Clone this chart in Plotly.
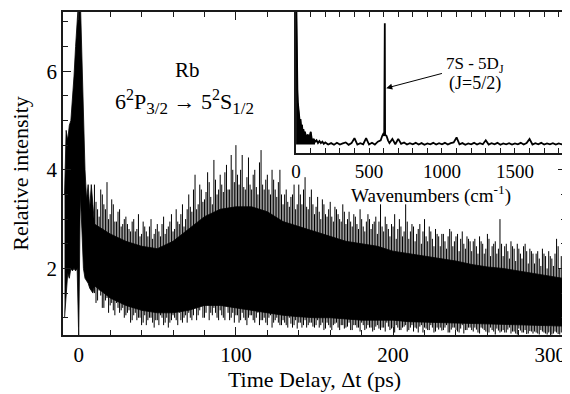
import plotly.graph_objects as go

# ---------------- main trace: time-delay signal ----------------
# near zero delay (1 ps sampling): upper / lower edge of the trace
t_peak = list(range(-9, 10))
hi_peak = [3.5, 4.8, 4.6, 4.9, 5.0, 5.4, 5.9, 6.5, 7.1, 7.5, 7.5, 6.4, 5.0, 4.0, 3.4, 3.7, 3.2, 3.7, 3.3]
lo_peak = [1.0, 1.5, 1.9, 1.8, 2.0, 1.95, 2.0, 1.95, 2.0, 0.6, 3.5, 2.8, 2.0, 1.8, 1.75, 1.7, 1.6, 1.55, 1.5]

# dense body of the oscillating signal (10 ps sampling)
band_t = [10, 20, 30, 40, 50, 60, 70, 80, 90, 100, 110, 120, 130, 140, 150, 160, 170, 180, 190, 200,
          210, 220, 230, 240, 250, 260, 270, 280, 290, 300, 308]
band_hi = [2.9, 2.7, 2.55, 2.45, 2.4, 2.55, 2.8, 3.05, 3.2, 3.25, 3.25, 3.15, 2.95, 2.85, 2.75, 2.65, 2.55,
           2.5, 2.45, 2.35, 2.3, 2.25, 2.2, 2.15, 2.08, 2.03, 2.0, 1.95, 1.9, 1.85, 1.8]
band_lo = [1.65, 1.4, 1.25, 1.15, 1.1, 1.1, 1.15, 1.25, 1.25, 1.2, 1.15, 1.1, 1.05, 1.02, 1.0, 1.0, 0.97,
           0.95, 0.95, 0.95, 0.92, 0.91, 0.9, 0.89, 0.88, 0.87, 0.86, 0.85, 0.85, 0.83, 0.83]

# individual noise excursions, even ps (max / min of each sample)
t_even = list(range(10, 309, 2))
hi_even = [
    3.7, 3.2, 3.6, 3.3, 3.75, 3.1, 3.3, 2.95, 3.2, 2.9,
    3.05, 2.8, 2.95, 2.75, 3.1, 2.7, 2.85, 2.65, 3.0, 2.7,
    2.9, 2.65, 3.05, 2.8, 2.95, 2.75, 3.2, 2.9, 3.3, 3.0,
    3.5, 3.15, 3.9, 3.3, 3.6, 3.4, 3.95, 3.45, 4.2, 3.5,
    3.9, 3.55, 4.1, 3.6, 4.0, 4.5, 3.7, 4.3, 3.6, 4.25,
    3.6, 4.0, 3.5, 4.4, 3.6, 3.9, 3.5, 3.8, 3.45, 4.0,
    3.3, 3.6, 3.25, 3.5, 3.2, 3.7, 3.3, 3.85, 3.2, 3.6,
    3.1, 3.45, 3.0, 3.3, 3.05, 3.35, 2.95, 3.2, 3.0, 3.3,
    2.9, 3.15, 2.85, 3.05, 2.8, 3.0, 2.75, 3.1, 2.8, 2.95,
    2.7, 3.3, 2.75, 2.9, 2.65, 2.85, 2.6, 3.0, 2.65, 3.3,
    2.6, 2.9, 2.55, 2.8, 2.5, 3.0, 2.55, 2.75, 2.45, 2.7,
    2.45, 2.7, 2.4, 2.8, 2.45, 2.65, 2.35, 2.75, 2.4, 2.6,
    2.35, 2.6, 2.3, 2.55, 2.3, 2.7, 2.25, 2.5, 2.3, 3.0,
    2.25, 2.5, 2.2, 2.45, 2.15, 2.4, 2.2, 2.5, 2.1, 2.35,
    2.1, 2.35, 2.05, 2.3, 2.0, 2.25, 2.05, 2.6, 2.0, 2.3,
]
lo_even = [
    1.5, 1.35, 1.45, 1.2, 1.4, 1.25, 1.15, 1.3, 1.1, 1.2,
    1.05, 1.15, 0.95, 1.1, 1.0, 0.85, 1.05, 0.95, 1.0, 0.8,
    0.95, 1.05, 0.85, 1.0, 0.9, 1.05, 0.95, 1.1, 0.9, 1.05,
    1.1, 0.95, 1.2, 1.05, 1.25, 1.0, 1.3, 1.1, 1.2, 1.0,
    1.15, 1.0, 1.25, 0.95, 1.1, 1.05, 0.9, 1.1, 0.95, 1.0,
    1.05, 0.9, 1.1, 0.95, 1.0, 0.85, 1.05, 0.9, 1.0, 0.85,
    0.95, 0.85, 1.0, 0.8, 0.95, 0.9, 0.8, 0.95, 0.85, 0.9,
    0.8, 0.95, 0.85, 0.75, 0.9, 0.8, 0.85, 0.9, 0.75, 0.85,
    0.8, 0.9, 0.75, 0.85, 0.8, 0.9, 0.75, 0.85, 0.8, 0.75,
    0.85, 0.75, 0.8, 0.9, 0.75, 0.8, 0.85, 0.75, 0.8, 0.85,
    0.75, 0.85, 0.8, 0.7, 0.85, 0.8, 0.75, 0.85, 0.7, 0.8,
    0.8, 0.75, 0.85, 0.7, 0.8, 0.75, 0.7, 0.85, 0.75, 0.8,
    0.75, 0.8, 0.7, 0.8, 0.75, 0.7, 0.8, 0.72, 0.78, 0.7,
    0.75, 0.7, 0.8, 0.72, 0.68, 0.78, 0.7, 0.75, 0.68, 0.72,
    0.72, 0.68, 0.75, 0.7, 0.66, 0.72, 0.68, 0.7, 0.66, 0.7,
]

# individual noise excursions, odd ps
t_odd = list(range(11, 308, 2))
hi_odd = [
    3.35, 3.05, 3.5, 3.2, 3.0, 3.4, 2.95, 3.15, 2.85, 3.0,
    2.9, 2.75, 3.0, 2.8, 2.65, 2.95, 2.75, 2.85, 2.6, 2.8,
    2.75, 2.9, 2.7, 2.85, 3.1, 2.8, 2.95, 3.1, 2.85, 3.2,
    3.25, 3.6, 3.2, 3.7, 3.35, 3.55, 3.75, 3.3, 3.8, 3.6,
    3.7, 3.95, 3.6, 4.3, 3.75, 3.9, 4.0, 3.65, 3.85, 3.7,
    3.9, 3.65, 4.15, 3.7, 3.8, 3.6, 4.0, 3.6, 3.75, 3.5,
    3.5, 3.35, 3.45, 3.7, 3.3, 3.5, 3.6, 3.25, 3.45, 3.3,
    3.25, 3.15, 3.4, 3.1, 3.2, 3.05, 3.25, 3.1, 2.95, 3.15,
    3.0, 2.95, 3.1, 2.9, 3.2, 2.85, 2.95, 3.0, 2.9, 3.05,
    2.95, 2.85, 3.05, 2.8, 2.9, 3.1, 2.8, 2.85, 2.75, 2.95,
    2.75, 2.85, 2.7, 2.9, 2.75, 2.65, 2.85, 2.6, 2.8, 2.65,
    2.7, 2.55, 2.65, 2.75, 2.55, 2.7, 2.6, 2.5, 2.65, 2.55,
    2.55, 2.45, 2.65, 2.5, 2.4, 2.6, 2.45, 2.55, 2.4, 2.5,
    2.45, 2.35, 2.55, 2.4, 2.5, 2.3, 2.45, 2.35, 2.4, 2.3,
    2.3, 2.2, 2.4, 2.25, 2.35, 2.2, 2.3, 2.45, 2.25,
]
lo_odd = [
    1.3, 1.55, 1.2, 1.35, 1.1, 1.3, 1.05, 1.2, 1.15, 1.0,
    1.1, 0.9, 1.05, 0.95, 1.0, 0.9, 0.85, 1.0, 0.9, 0.95,
    0.85, 1.0, 0.9, 0.8, 0.95, 1.0, 0.85, 0.95, 1.0, 0.9,
    1.0, 1.05, 0.95, 1.15, 1.0, 1.1, 0.95, 1.05, 1.1, 0.95,
    1.05, 0.95, 1.1, 1.0, 0.9, 1.05, 0.95, 1.0, 0.85, 1.05,
    0.95, 1.0, 0.85, 0.95, 0.9, 1.0, 0.8, 0.95, 0.9, 0.85,
    0.9, 0.8, 0.88, 0.85, 0.78, 0.9, 0.85, 0.8, 0.9, 0.82,
    0.85, 0.8, 0.9, 0.78, 0.85, 0.75, 0.88, 0.8, 0.85, 0.78,
    0.82, 0.75, 0.85, 0.8, 0.72, 0.85, 0.78, 0.8, 0.72, 0.82,
    0.78, 0.8, 0.72, 0.82, 0.78, 0.7, 0.8, 0.75, 0.82, 0.72,
    0.8, 0.72, 0.78, 0.82, 0.7, 0.78, 0.75, 0.8, 0.72, 0.76,
    0.74, 0.8, 0.7, 0.76, 0.8, 0.72, 0.78, 0.68, 0.75, 0.8,
    0.72, 0.76, 0.68, 0.78, 0.72, 0.7, 0.75, 0.66, 0.74, 0.72,
    0.7, 0.76, 0.68, 0.72, 0.66, 0.74, 0.7, 0.67, 0.73, 0.68,
    0.7, 0.66, 0.72, 0.68, 0.7, 0.66, 0.72, 0.67, 0.7,
]

# ---------------- inset: Fourier spectrum ----------------
wn_low = [0, 3, 6, 9, 12, 15, 20, 25, 30, 35, 40, 45, 50, 55, 60, 70, 80, 90, 100, 110, 120, 130]
amp_low = [1.2, 0.75, 0.55, 0.45, 0.36, 0.32, 0.26, 0.22, 0.24, 0.18, 0.2, 0.15, 0.17, 0.13, 0.15,
           0.11, 0.13, 0.1, 0.15, 0.08, 0.1, 0.08]
noise_floor = 0.06
wn = wn_low + [
      140, 150, 160, 170, 180, 190,
      200, 220, 240, 260, 280, 300, 320, 340, 360, 380, 400, 420, 440, 460, 480, 500, 520, 540, 560, 580,
      590, 600, 604, 606, 608, 610, 620, 630,
      640, 660, 680, 700, 720, 740, 760, 780, 800, 820, 840, 860, 880, 900, 920, 940, 960, 980,
      1000, 1020, 1040, 1060, 1080, 1100, 1120, 1140, 1160, 1180, 1200, 1220, 1240, 1260, 1280,
      1300, 1320, 1340, 1360, 1380, 1400, 1420, 1440, 1460, 1480, 1500, 1520, 1540, 1560, 1580,
      1600, 1620, 1640, 1660, 1680, 1700, 1720, 1740, 1760, 1780, 1800, 1820, 1840, 1860]
amp = amp_low + [
       0.09, 0.07, 0.085, 0.07, 0.08, 0.065,
       0.075, 0.06, 0.07, 0.058, 0.072, 0.06, 0.068, 0.075, 0.058, 0.07, 0.105, 0.06, 0.07, 0.062, 0.105, 0.06,
       0.072, 0.06, 0.08, 0.09,
       0.12, 0.14, 0.12, 0.92, 0.92, 0.13, 0.12, 0.09,
       0.07, 0.1, 0.062, 0.1, 0.065, 0.075, 0.06, 0.07, 0.062, 0.072, 0.06, 0.07, 0.058, 0.068, 0.062, 0.072,
       0.06, 0.07,
       0.062, 0.072, 0.06, 0.07, 0.075, 0.11, 0.062, 0.07, 0.058, 0.068, 0.062, 0.072, 0.06, 0.07, 0.062,
       0.09, 0.06, 0.07, 0.062, 0.072, 0.058, 0.068, 0.062, 0.07, 0.06, 0.068, 0.062, 0.072, 0.06, 0.07,
       0.1, 0.06, 0.07, 0.062, 0.072, 0.06, 0.068, 0.062, 0.07, 0.06, 0.068, 0.062, 0.07, 0.065]

FONT = "Liberation Serif"
AX = "#1a1a1a"

fig = go.Figure()

# solid body: lower edge then upper edge filled
body_t = t_peak + band_t
fig.add_trace(go.Scatter(x=body_t, y=lo_peak + band_lo, mode="lines", line=dict(color="black", width=0.8),
                         hoverinfo="skip", showlegend=False))
fig.add_trace(go.Scatter(x=body_t, y=hi_peak + band_hi, mode="lines", line=dict(color="black", width=0.8),
                         fill="tonexty", fillcolor="black", hoverinfo="skip", showlegend=False))
# noise excursions as thin vertical strokes
sx, sy = [], []
for t, lo, hi in list(zip(t_even, lo_even, hi_even)) + list(zip(t_odd, lo_odd, hi_odd)):
    sx += [t, t, None]
    sy += [lo, hi, None]
fig.add_trace(go.Scatter(x=sx, y=sy, mode="lines", line=dict(color="black", width=1.0),
                         hoverinfo="skip", showlegend=False))

# inset spectrum
fig.add_trace(go.Scatter(x=wn_low, y=[noise_floor] * len(wn_low), mode="lines",
                         line=dict(color="black", width=0), xaxis="x2", yaxis="y2",
                         hoverinfo="skip", showlegend=False))
fig.add_trace(go.Scatter(x=wn_low, y=amp_low, mode="lines", line=dict(color="black", width=1),
                         fill="tonexty", fillcolor="black", xaxis="x2", yaxis="y2",
                         hoverinfo="skip", showlegend=False))
fig.add_trace(go.Scatter(x=wn, y=amp, mode="lines", line=dict(color="black", width=1.8),
                         xaxis="x2", yaxis="y2", hoverinfo="skip", showlegend=False))

axis_common = dict(showline=True, linecolor=AX, linewidth=1.5, mirror="allticks", ticks="inside",
                   tickcolor=AX, tickwidth=1.2, showgrid=False, zeroline=False)

fig.update_layout(
    width=562, height=386,
    margin=dict(l=55, r=2, t=4, b=59),
    paper_bgcolor="white", plot_bgcolor="white",
    font=dict(family=FONT, color="black"),
    xaxis=dict(axis_common, range=[-10, 310], tickvals=[0, 100, 200, 300], ticklen=8,
               minor=dict(dtick=20, tick0=0, ticklen=5, ticks="inside", tickcolor=AX),
               tickfont=dict(size=21, family=FONT), ticklabelstandoff=0,
               title=dict(text="Time Delay, Δt (ps)", font=dict(size=22, family=FONT), standoff=6)),
    yaxis=dict(axis_common, range=[0.65, 7.2], tickvals=[2, 4, 6], ticklen=8,
               minor=dict(dtick=0.5, tick0=0, ticklen=5, ticks="inside", tickcolor=AX),
               tickfont=dict(size=21, family=FONT),
               title=dict(text="Relative intensity", font=dict(size=22, family=FONT), standoff=14)),
    xaxis2=dict(axis_common, domain=[0.4634, 1.0], anchor="y2", range=[0, 1850],
                tickvals=[0, 500, 1000, 1500], ticklen=5,
                minor=dict(dtick=100, tick0=0, ticklen=5, ticks="inside", tickcolor=AX),
                tickfont=dict(size=19, family=FONT), ticklabelstandoff=0,
                title=dict(text="Wavenumbers (cm<sup>-1</sup>)", font=dict(size=19, family=FONT), standoff=0)),
    yaxis2=dict(showline=True, linecolor=AX, linewidth=1.5, mirror=True, ticks="", showticklabels=False,
                showgrid=False, zeroline=False, domain=[0.5635, 1.0], anchor="x2", range=[0, 1]),
)

fig.add_annotation(x=69, y=6.02, xref="x", yref="y", text="Rb", showarrow=False,
                   font=dict(size=21, family=FONT))
fig.add_annotation(x=67, y=5.37, xref="x", yref="y",
                   text=("6<sup><span style='font-size:16px'>2</span></sup>P<sub><span style='font-size:17px'>3/2</span></sub>"
                         " → 5<sup><span style='font-size:16px'>2</span></sup>S<sub><span style='font-size:17px'>1/2</span></sub>"),
                   showarrow=False, font=dict(size=22, family=FONT))
fig.add_annotation(x=1228, y=0.625, xref="x2", yref="y2", text="7S - 5D<sub>J</sub>", showarrow=False,
                   font=dict(size=17, family=FONT))
fig.add_annotation(x=1228, y=0.49, xref="x2", yref="y2", text="(J=5/2)", showarrow=False,
                   font=dict(size=18, family=FONT))
fig.add_annotation(x=618, y=0.46, ax=1010, ay=0.567, xref="x2", yref="y2", axref="x2", ayref="y2",
                   text="", showarrow=True, arrowhead=2, arrowsize=1.2, arrowwidth=1, arrowcolor="black")

fig.write_html("out.html")
